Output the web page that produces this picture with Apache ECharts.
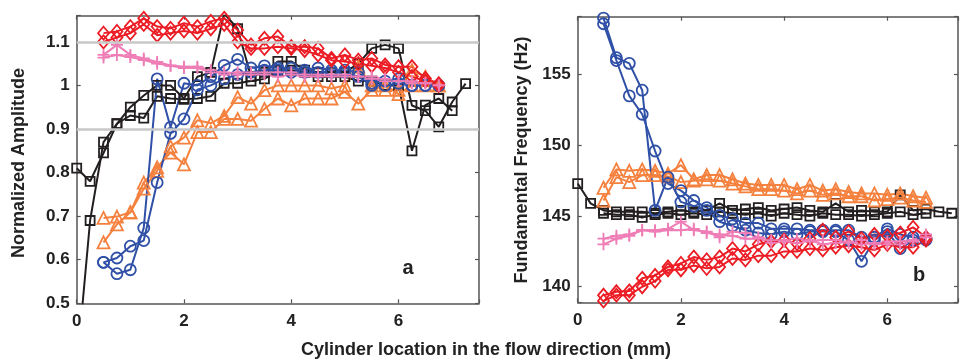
<!DOCTYPE html>
<html><head><meta charset="utf-8">
<script src="https://cdn.jsdelivr.net/npm/echarts@6/dist/echarts.min.js"></script>
<style>html,body{margin:0;padding:0;background:#fff}#c{width:961px;height:360px}</style>
</head><body><div id="c"></div>
<script>
// x positions (mm)
const x0to725 = [0,0.25,0.5,0.75,1,1.25,1.5,1.75,2,2.25,2.5,2.75,3,3.25,3.5,3.75,4,4.25,4.5,4.75,5,5.25,5.5,5.75,6,6.25,6.5,6.75,7,7.25];
const x0to7   = [0,0.25,0.5,0.75,1,1.25,1.5,1.75,2,2.25,2.5,2.75,3,3.25,3.5,3.75,4,4.25,4.5,4.75,5,5.25,5.5,5.75,6,6.25,6.5,6.75,7];
const x05to675 = [0.5,0.75,1,1.25,1.5,1.75,2,2.25,2.5,2.75,3,3.25,3.5,3.75,4,4.25,4.5,4.75,5,5.25,5.5,5.75,6,6.25,6.5,6.75];

// Panel a: normalized amplitude
const ampBlackA = [0.81,0.78,0.845,0.912,0.95,0.977,1.0,1.0,0.97,1.02,1.03,1.165,1.13,1.02,1.03,1.055,1.055,1.035,1.03,1.03,1.03,1.05,1.085,1.093,1.085,0.954,0.942,0.905,0.962,1.004];
const ampBlackB = [0.35,0.69,0.87,0.912,0.931,0.925,0.975,0.97,0.968,0.97,0.975,1.005,1.005,1.01,1.015,1.035,1.035,1.03,1.02,1.02,1.02,1.01,1.01,1.0,1.0,0.85,0.955,0.97,0.942];
const ampOrange1 = [0.696,0.699,0.709,0.777,0.812,0.846,0.819,0.893,0.893,0.923,0.923,0.919,0.946,0.97,0.954,0.97,0.97,0.97,0.985,0.958,0.99,1.0,0.98,1.0,1.0,1.0];
const ampOrange2 = [0.64,0.681,0.709,0.763,0.804,0.86,0.88,0.92,0.913,0.93,0.973,0.958,0.989,1.0,1.0,1.0,1.0,0.993,1.0,1.043,1.0,0.99,0.99,1.035,1.02,1.0];
const ampBlue1 = [0.594,0.568,0.577,0.673,1.015,0.904,1.005,1.0,1.02,1.046,1.06,1.04,1.045,1.04,1.04,1.035,1.04,1.035,1.035,1.03,1.005,1.01,1.015,1.0,1.0,1.0];
const ampBlue2 = [0.594,0.604,0.631,0.644,0.777,0.89,0.923,0.99,1.0,1.015,1.025,1.03,1.035,1.035,1.03,1.03,1.03,1.03,1.03,1.02,1.0,1.0,1.005,1.0,1.0,1.0];
const ampRed1 = [1.12,1.124,1.135,1.154,1.135,1.131,1.143,1.135,1.147,1.154,1.127,1.093,1.108,1.112,1.089,1.089,1.085,1.062,1.07,1.058,1.062,1.047,1.043,1.043,1.016,1.004];
const ampRed2 = [1.1,1.11,1.12,1.14,1.115,1.12,1.125,1.12,1.13,1.14,1.1,1.085,1.085,1.089,1.085,1.08,1.07,1.058,1.055,1.05,1.045,1.04,1.03,1.02,1.01,1.0];
const ampPink1 = [1.064,1.07,1.065,1.058,1.05,1.045,1.04,1.04,1.03,1.03,1.025,1.025,1.025,1.02,1.025,1.02,1.02,1.025,1.02,1.02,1.02,1.015,1.01,1.01,1.005,1.0];
const ampPink2 = [1.07,1.093,1.07,1.062,1.054,1.046,1.043,1.043,1.035,1.025,1.03,1.03,1.03,1.03,1.03,1.025,1.025,1.02,1.025,1.02,1.015,1.01,1.01,1.005,1.005,1.0];
const ampRefLines = [0.9, 1.1];

// Panel b: fundamental frequency (Hz)
const frqBlack1 = [147.3,145.9,145.4,145.3,145.3,145.3,145.2,145.3,145.4,145.3,145.4,145.9,145.4,145.5,145.6,145.4,145.5,145.6,145.4,145.3,145.9,145.3,145.4,145.3,145.3,146.5,145.4,145.5,145.3,145.2];
const frqBlack2 = [145.2,145.1,145.1,144.9,145.1,145.2,145.1,145.2,145.1,145.3,145.2,145.1,145.2,145.0,145.2,145.1,145.0,145.2,145.1,145.1,145.0,145.1,145.2,145.3,145.1,145.2];
const frqOrange1 = [147.0,148.3,148.2,148.3,148.2,148.0,148.6,147.6,147.9,147.9,147.6,147.3,147.2,147.2,147.2,146.9,147.2,146.8,146.9,146.7,146.6,146.6,146.5,146.6,146.4,146.3];
const frqOrange2 = [146.1,147.75,147.4,147.9,147.9,147.8,147.4,147.5,147.6,147.5,147.3,147.1,146.9,146.9,146.8,146.6,146.8,146.5,146.6,146.4,146.4,146.1,146.2,146.3,146.1,146.0];
const frqBlue1 = [159.0,156.2,155.8,153.9,145.4,147.75,146.0,145.7,145.4,144.6,144.3,144.0,143.8,143.7,143.9,143.7,143.9,143.9,143.9,143.3,141.8,143.3,143.9,142.7,143.3,143.4];
const frqBlue2 = [158.6,156.0,153.5,152.2,149.6,147.3,146.8,146.1,145.6,145.05,144.8,144.5,144.5,144.1,144.1,144.1,144.0,144.0,144.0,144.0,143.5,143.5,144.1,143.7,143.5,143.3];
const frqRed1 = [139.4,139.65,139.7,140.6,140.8,141.4,141.65,142.1,141.9,142.1,142.7,142.5,143.0,143.2,143.3,143.05,143.4,144.0,143.5,143.9,143.4,143.7,143.6,143.8,144.2,143.5];
const frqRed2 = [139.0,139.4,139.4,140.0,140.4,141.2,141.2,141.5,141.3,141.4,142.0,141.9,142.2,142.2,142.5,142.5,142.7,142.6,142.8,142.9,142.8,142.6,143.0,142.8,142.8,143.3];
const frqPink1 = [143.4,143.6,143.7,144.0,144.0,144.1,144.6,144.0,143.9,143.5,143.9,143.8,143.5,143.3,143.3,143.4,143.2,143.3,143.3,143.1,143.3,143.0,143.2,143.2,143.3,143.7];
const frqPink2 = [143.0,143.4,143.6,144.0,143.9,144.0,144.0,144.1,143.8,143.7,143.6,143.4,143.4,143.1,143.2,143.1,143.3,143.0,143.1,143.2,143.0,143.1,143.0,143.0,143.2,143.5];

const C = {black:'#231f20', blue:'#2f50a6', orange:'#f5813f', red:'#ec1c24', pink:'#ef7db6'};
const PLUS = 'path://M5,0L5,10M0,5L10,5';
const SYM = {
  black:{symbol:'rect', size:9},
  blue:{symbol:'circle', size:11},
  orange:{symbol:'triangle', size:12},
  red:{symbol:'diamond', size:[11,13]},
  pink:{symbol:PLUS, size:12}
};
const FONT = '"Liberation Sans", Arial, Helvetica, sans-serif';

function mk(xs, ys, key, panel) {
  const s = SYM[key];
  return {
    type:'line', xAxisIndex: panel*2, yAxisIndex: panel*2,
    data: ys.map((v,i)=>[xs[i], v]),
    symbol: s.symbol, symbolSize: s.size, showSymbol:true, clip:true,
    lineStyle:{color:C[key], width:2},
    itemStyle:{color:'rgba(255,255,255,0)', borderColor:C[key], borderWidth:1.8},
    emphasis:{disabled:true}, z:3
  };
}

const AX = '#555';
function tickFmt(step){ return function(v){ const r=Math.round(v/step)*step; return Math.abs(r-v)<1e-6 ? String(Math.round(r*100)/100) : ''; }; }
function xAxes(grid, max){
  return [
    {type:'value', gridIndex:grid, min:0, max:max, splitNumber:4, position:'bottom',
     axisLine:{show:true, lineStyle:{color:AX, width:1.5}}, axisTick:{show:true, inside:true, length:4, lineStyle:{color:AX,width:1.2}},
     axisLabel:{color:'#222', fontFamily:FONT, fontWeight:'bold', fontSize:17, margin:10, formatter:tickFmt(2)}, splitLine:{show:false}},
    {type:'value', gridIndex:grid, min:0, max:max, splitNumber:4, position:'top',
     axisLine:{show:true, lineStyle:{color:AX, width:1.5}}, axisTick:{show:true, inside:true, length:4, lineStyle:{color:AX,width:1.2}},
     axisLabel:{show:false}, splitLine:{show:false}}
  ];
}
function yAxes(grid, min, max, fmtStep){
  return [
    {type:'value', gridIndex:grid, min:min, max:max, position:'left',
     axisLine:{show:true, onZero:false, lineStyle:{color:AX, width:1.5}}, axisTick:{show:true, inside:true, length:4, lineStyle:{color:AX,width:1.2}},
     axisLabel:{color:'#222', fontFamily:FONT, fontWeight:'bold', fontSize:17, margin:7, formatter:tickFmt(fmtStep)}, splitLine:{show:false}},
    {type:'value', gridIndex:grid, min:min, max:max, position:'right',
     axisLine:{show:true, onZero:false, lineStyle:{color:AX, width:1.5}}, axisTick:{show:true, inside:true, length:4, lineStyle:{color:AX,width:1.2}},
     axisLabel:{show:false}, splitLine:{show:false}}
  ];
}

const chart = echarts.init(document.getElementById('c'), null, {renderer:'canvas'});
const series = [
  {type:'line', xAxisIndex:0, yAxisIndex:0, data:[], z:1, silent:true,
   markLine:{silent:true, symbol:'none', label:{show:false}, animation:false,
     lineStyle:{color:'#c8c8c8', width:2.5, type:'solid'}, data: ampRefLines.map(v=>({yAxis:v}))}},
  mk(x0to725, ampBlackA, 'black', 0),
  mk(x0to7, ampBlackB, 'black', 0),
  mk(x05to675, ampOrange1, 'orange', 0),
  mk(x05to675, ampOrange2, 'orange', 0),
  mk(x05to675, ampBlue1, 'blue', 0),
  mk(x05to675, ampBlue2, 'blue', 0),
  mk(x05to675, ampRed1, 'red', 0),
  mk(x05to675, ampRed2, 'red', 0),
  mk(x05to675, ampPink1, 'pink', 0),
  mk(x05to675, ampPink2, 'pink', 0),
  mk(x0to725, frqBlack1, 'black', 1),
  mk(x05to675, frqBlack2, 'black', 1),
  mk(x05to675, frqOrange1, 'orange', 1),
  mk(x05to675, frqOrange2, 'orange', 1),
  mk(x05to675, frqBlue1, 'blue', 1),
  mk(x05to675, frqBlue2, 'blue', 1),
  mk(x05to675, frqRed1, 'red', 1),
  mk(x05to675, frqRed2, 'red', 1),
  mk(x05to675, frqPink1, 'pink', 1),
  mk(x05to675, frqPink2, 'pink', 1)
];

chart.setOption({
  animation:false,
  backgroundColor:'#fff',
  grid:[
    {left:76.7, top:15.7, width:402.3, height:287.6},
    {left:577.7, top:16.7, width:384, height:285.6}
  ],
  xAxis:[...xAxes(0, 7.5), ...xAxes(1, 7.37)],
  yAxis:[...yAxes(0, 0.5, 1.16, 0.1), ...yAxes(1, 138.9, 159.1, 5)],
  series: series,
  graphic:[
    {type:'text', x:19, y:163, rotation:Math.PI/2, style:{text:'Normalized Amplitude', font:'bold 18px '+FONT, fill:'#222', align:'center', verticalAlign:'middle'}},
    {type:'text', x:522, y:160, rotation:Math.PI/2, style:{text:'Fundamental Frequency (Hz)', font:'bold 18px '+FONT, fill:'#222', align:'center', verticalAlign:'middle'}},
    {type:'text', x:486, y:350, style:{text:'Cylinder location in the flow direction (mm)', font:'bold 18px '+FONT, fill:'#222', align:'center', verticalAlign:'middle'}},
    {type:'text', x:408, y:268, style:{text:'a', font:'bold 20px '+FONT, fill:'#222', align:'center', verticalAlign:'middle'}},
    {type:'text', x:919, y:275, style:{text:'b', font:'bold 20px '+FONT, fill:'#222', align:'center', verticalAlign:'middle'}}
  ]
});
</script></body></html>
